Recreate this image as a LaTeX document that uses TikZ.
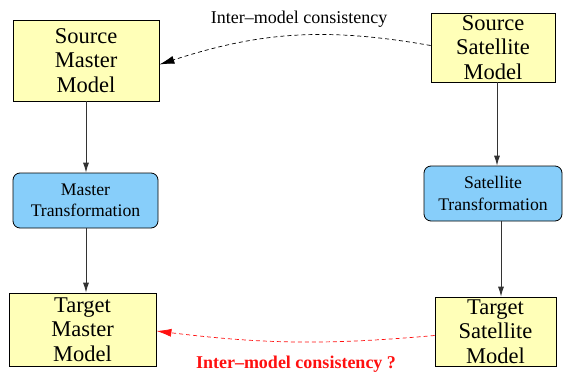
\documentclass[tikz,border=0pt]{standalone}
\usepackage{fontspec}
\setmainfont{Liberation Serif}
\usetikzlibrary{arrows.meta}
\definecolor{modelfill}{HTML}{FFFFB8}
\definecolor{transfill}{HTML}{87CEFA}
\definecolor{linkred}{HTML}{FF1010}
\tikzset{
  model/.style={draw=black, line width=0.8pt, fill=modelfill, align=center, inner sep=0pt,
    font=\fontsize{22.5}{24.5}\selectfont},
  trans/.style={draw=black, line width=0.8pt, fill=transfill, rounded corners=7pt, align=center,
    inner sep=0pt, font=\fontsize{17.7}{21.5}\selectfont},
  flow/.style={draw=black!80, line width=0.8pt, -{Latex[length=10pt,width=6pt]}},
  link/.style={dashed, dash pattern=on 4pt off 3pt, line width=0.7pt,
    -{Latex[length=15pt,width=8pt]}},
  lbl/.style={font=\fontsize{18}{20}\selectfont, inner sep=0pt}
}
\begin{document}
\begin{tikzpicture}[x=1pt, y=-1pt]
  \useasboundingbox (0,0) rectangle (565,372);
  % models
  \node[model, minimum width=146pt, minimum height=81pt] (sm) at (86,60.5) {Source\\Master\\Model};
  \node[model, minimum width=124pt, minimum height=69pt] (ss) at (493,47.5) {Source\\Satellite\\Model};
  \node[model, minimum width=147pt, minimum height=73pt] (tm) at (82.5,329.5) {Target\\Master\\Model};
  \node[model, minimum width=121pt, minimum height=69pt] (ts) at (495.5,331.5) {Target\\Satellite\\Model};
  % transformations
  \node[trans, minimum width=145pt, minimum height=55pt] (mt) at (85.5,200.5) {Master\\Transformation};
  \node[trans, minimum width=138pt, minimum height=55pt] (st) at (493,193.5) {Satellite\\Transformation};
  % transformation chains
  \coordinate (smb) at (sm.south);
  \draw[flow] (smb) -- (smb |- mt.north);
  \draw[flow] (smb |- mt.south) -- (smb |- tm.north);
  \coordinate (ssb) at ([xshift=4pt]ss.south);
  \draw[flow] (ssb) -- (ssb |- st.north);
  \coordinate (stb) at ([xshift=8pt]st.south);
  \draw[flow] (stb) -- (stb |- ts.north);
  % consistency links
  \draw[link, black] ([yshift=2pt]ss.west) to[bend right=14] ([yshift=-4pt]sm.east);
  \node[lbl] (top) at (299,19) {Inter–model consistency};
  \draw[link, linkred] ([yshift=-4pt]ts.west) to[bend left=6] ([yshift=-1.5pt]tm.east);
  \node[lbl, text=linkred, font=\fontsize{18}{20}\selectfont\bfseries] (bot) at (296,364) {Inter–model consistency ?};
\end{tikzpicture}
\end{document}
